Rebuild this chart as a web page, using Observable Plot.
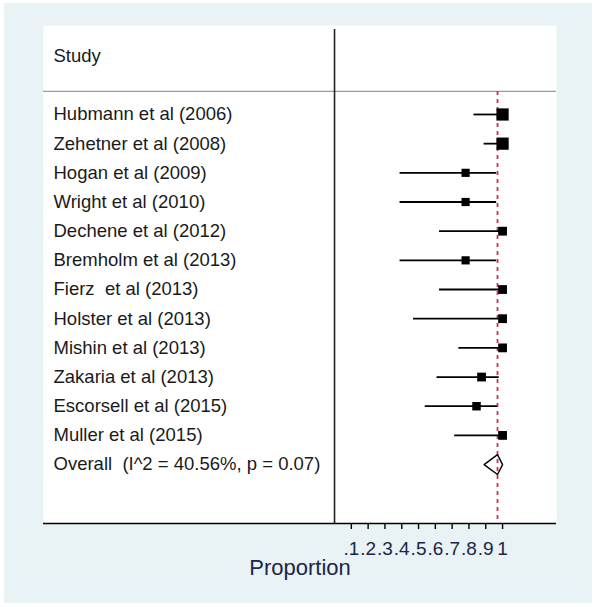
<!DOCTYPE html>
<html><head><meta charset="utf-8">
<script src="https://cdn.jsdelivr.net/npm/d3@7"></script>
<script src="https://cdn.jsdelivr.net/npm/@observablehq/plot@0.6"></script>
<style>
html,body{margin:0;padding:0;background:#fff;}
#wrap{position:relative;width:596px;height:607px;overflow:hidden;}
#bg{position:absolute;left:4px;top:3px;width:588px;height:600px;background:#e9f2f4;}
#chart{position:absolute;left:0;top:0;}
#chart svg text{white-space:pre;}
</style></head><body>
<div id="wrap"><div id="bg"></div><div id="chart"></div></div>
<script>
// ---- data ----
const studies = ["Hubmann et al (2006)", "Zehetner et al (2008)", "Hogan et al (2009)", "Wright et al (2010)",
  "Dechene et al (2012)", "Bremholm et al (2013)", "Fierz  et al (2013)", "Holster et al (2013)",
  "Mishin et al (2013)", "Zakaria et al (2013)", "Escorsell et al (2015)", "Muller et al (2015)"];
const estimates = [1.0, 1.0, 0.78, 0.78, 1.0, 0.78, 1.0, 1.0, 1.0, 0.875, 0.845, 1.0];
const lowerCI   = [0.83, 0.89, 0.39, 0.39, 0.625, 0.39, 0.625, 0.47, 0.74, 0.61, 0.54, 0.715];
const upperCI   = [1.0, 1.0, 0.965, 0.965, 1.0, 0.965, 1.0, 1.0, 1.0, 0.98, 0.97, 1.0];
const weights   = [14.5, 14.5, 6.5, 6.5, 7.5, 6.5, 7.5, 7.5, 7.5, 7.5, 7.0, 7.5];
const overallLabel = "Overall  (I^2 = 40.56%, p = 0.07)";
const overallEst = 0.97, overallLo = 0.89, overallHi = 1.0;
const headerLabel = "Study";
const axisTitle = "Proportion";
const tickValues = [0.1, 0.2, 0.3, 0.4, 0.5, 0.6, 0.7, 0.8, 0.9, 1];
const tickLabels = [".1", ".2", ".3", ".4", ".5", ".6", ".7", ".8", ".9", "1"];

// ---- layout (row units) ----
const headerRow = -2.0;
const headerSep = -0.79;
const yTop = -3.05, yBottom = 14.02;
const diamondHalf = 0.34;

const rows = studies.map((s, i) => ({study: s, row: i, est: estimates[i], lo: lowerCI[i], hi: upperCI[i], w: weights[i]}));
const overallRow = studies.length;
const diamond = [
  {x: overallLo, y: overallRow},
  {x: overallEst, y: overallRow - diamondHalf},
  {x: overallHi, y: overallRow},
  {x: overallEst, y: overallRow + diamondHalf},
  {x: overallLo, y: overallRow}
];
const tickMap = new Map(tickValues.map((v, i) => [v, tickLabels[i]]));
const font = "'Liberation Sans', Arial, sans-serif";

const chart = Plot.plot({
  width: 596, height: 607,
  marginLeft: 43, marginRight: 40, marginTop: 25, marginBottom: 84,
  style: {background: "transparent", fontFamily: font, color: "#1a1a1a"},
  x: {domain: [-1.732, 1.321]},
  y: {domain: [yTop, yBottom], reverse: true, axis: null},
  r: {type: "sqrt", domain: [0, 14.5], range: [0, 6.9]},
  marks: [
    Plot.frame({fill: "white", stroke: null}),
    Plot.ruleY([headerSep], {stroke: "#9c9c9c", strokeWidth: 1.2}),
    Plot.ruleX([0], {stroke: "#222", strokeWidth: 1.6, insetTop: 4}),
    Plot.ruleX([overallEst], {y1: headerSep, y2: yBottom, stroke: "#c8344e", strokeWidth: 1.8, strokeDasharray: "4,4"}),
    Plot.ruleY(rows, {y: "row", x1: "lo", x2: "hi", stroke: "black", strokeWidth: 1.8}),
    Plot.dot(rows, {x: "est", y: "row", r: "w", symbol: "square", fill: "black"}),
    Plot.line(diamond, {x: "x", y: "y", stroke: "black", strokeWidth: 1.4}),
    Plot.text([{t: headerLabel, y: headerRow}], {text: "t", y: "y", frameAnchor: "left", dx: 10, textAnchor: "start", fontSize: 18.5, fill: "#1a1a1a"}),
    Plot.text(rows, {text: "study", y: "row", frameAnchor: "left", dx: 10, textAnchor: "start", fontSize: 18.5, fill: "#1a1a1a"}),
    Plot.text([{t: overallLabel, y: overallRow}], {text: "t", y: "y", frameAnchor: "left", dx: 10, textAnchor: "start", fontSize: 18.5, fill: "#1a1a1a"}),
    Plot.ruleY([yBottom], {stroke: "black", strokeWidth: 1.6}),
    Plot.axisX({ticks: tickValues, tickFormat: d => tickMap.get(d), tickSize: 6, tickPadding: 12, fontSize: 19, label: null, fill: "#1c2648", stroke: "black", strokeWidth: 1.4}),
    Plot.text([axisTitle], {frameAnchor: "bottom", dy: 51, fontSize: 22, fill: "#1c2648"})
  ]
});
document.getElementById("chart").appendChild(chart);
</script>
</body></html>
